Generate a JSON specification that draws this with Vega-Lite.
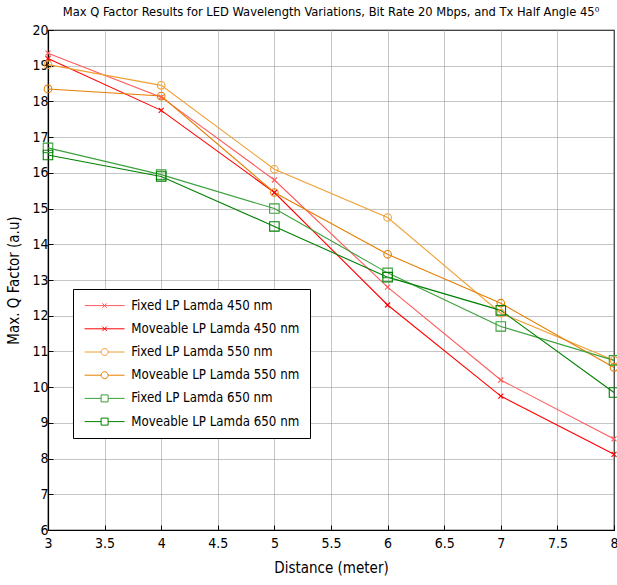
{
  "$schema": "https://vega.github.io/schema/vega-lite/v6.json",
  "width": 566,
  "height": 500,
  "autosize": {"type": "none"},
  "padding": {"left": 48, "top": 30, "right": 3, "bottom": 55},
  "background": "white",
  "title": {
    "text": "Max Q Factor Results for LED Wavelength Variations, Bit Rate 20 Mbps, and Tx Half Angle 45⁰",
    "font": "DejaVu Sans Condensed, Liberation Sans, sans-serif",
    "fontSize": 12.8,
    "fontWeight": "normal",
    "color": "#000000",
    "anchor": "middle",
    "offset": 4
  },
  "config": {
    "view": {"stroke": "#000000", "strokeWidth": 1.2},
    "axis": {
      "labelFont": "DejaVu Sans Condensed, Liberation Sans, sans-serif",
      "labelFontSize": 14,
      "labelColor": "#000000",
      "titleFont": "DejaVu Sans Condensed, Liberation Sans, sans-serif",
      "titleFontSize": 15,
      "titleFontWeight": "normal",
      "titleColor": "#000000",
      "domainColor": "#000000",
      "domainWidth": 1.2,
      "tickColor": "#000000",
      "tickSize": -5,
      "gridColor": "#8a8a8a",
      "gridDash": [1, 1],
      "gridWidth": 1,
      "gridOpacity": 1
    }
  },
  "data": {
    "values": [
      {"series": "Fixed LP Lamda 450 nm", "lamda": "450", "d": 3, "q": 19.35},
      {"series": "Fixed LP Lamda 450 nm", "lamda": "450", "d": 4, "q": 18.12},
      {"series": "Fixed LP Lamda 450 nm", "lamda": "450", "d": 5, "q": 15.8},
      {"series": "Fixed LP Lamda 450 nm", "lamda": "450", "d": 6, "q": 12.8},
      {"series": "Fixed LP Lamda 450 nm", "lamda": "450", "d": 7, "q": 10.2},
      {"series": "Fixed LP Lamda 450 nm", "lamda": "450", "d": 8, "q": 8.55},
      {"series": "Moveable LP Lamda 450 nm", "lamda": "450", "d": 3, "q": 19.2},
      {"series": "Moveable LP Lamda 450 nm", "lamda": "450", "d": 4, "q": 17.75},
      {"series": "Moveable LP Lamda 450 nm", "lamda": "450", "d": 5, "q": 15.45},
      {"series": "Moveable LP Lamda 450 nm", "lamda": "450", "d": 6, "q": 12.3},
      {"series": "Moveable LP Lamda 450 nm", "lamda": "450", "d": 7, "q": 9.75},
      {"series": "Moveable LP Lamda 450 nm", "lamda": "450", "d": 8, "q": 8.12},
      {"series": "Fixed LP Lamda 550 nm", "lamda": "550", "d": 3, "q": 19.03},
      {"series": "Fixed LP Lamda 550 nm", "lamda": "550", "d": 4, "q": 18.45},
      {"series": "Fixed LP Lamda 550 nm", "lamda": "550", "d": 5, "q": 16.1},
      {"series": "Fixed LP Lamda 550 nm", "lamda": "550", "d": 6, "q": 14.75},
      {"series": "Fixed LP Lamda 550 nm", "lamda": "550", "d": 7, "q": 12.07},
      {"series": "Fixed LP Lamda 550 nm", "lamda": "550", "d": 8, "q": 10.75},
      {"series": "Moveable LP Lamda 550 nm", "lamda": "550", "d": 3, "q": 18.35},
      {"series": "Moveable LP Lamda 550 nm", "lamda": "550", "d": 4, "q": 18.15},
      {"series": "Moveable LP Lamda 550 nm", "lamda": "550", "d": 5, "q": 15.45},
      {"series": "Moveable LP Lamda 550 nm", "lamda": "550", "d": 6, "q": 13.72},
      {"series": "Moveable LP Lamda 550 nm", "lamda": "550", "d": 7, "q": 12.35},
      {"series": "Moveable LP Lamda 550 nm", "lamda": "550", "d": 8, "q": 10.55},
      {"series": "Fixed LP Lamda 650 nm", "lamda": "650", "d": 3, "q": 16.7},
      {"series": "Fixed LP Lamda 650 nm", "lamda": "650", "d": 4, "q": 15.95},
      {"series": "Fixed LP Lamda 650 nm", "lamda": "650", "d": 5, "q": 15.0},
      {"series": "Fixed LP Lamda 650 nm", "lamda": "650", "d": 6, "q": 13.2},
      {"series": "Fixed LP Lamda 650 nm", "lamda": "650", "d": 7, "q": 11.7},
      {"series": "Fixed LP Lamda 650 nm", "lamda": "650", "d": 8, "q": 10.75},
      {"series": "Moveable LP Lamda 650 nm", "lamda": "650", "d": 3, "q": 16.5},
      {"series": "Moveable LP Lamda 650 nm", "lamda": "650", "d": 4, "q": 15.9},
      {"series": "Moveable LP Lamda 650 nm", "lamda": "650", "d": 5, "q": 14.5},
      {"series": "Moveable LP Lamda 650 nm", "lamda": "650", "d": 6, "q": 13.08},
      {"series": "Moveable LP Lamda 650 nm", "lamda": "650", "d": 7, "q": 12.15},
      {"series": "Moveable LP Lamda 650 nm", "lamda": "650", "d": 8, "q": 9.85}
    ]
  },
  "encoding": {
    "x": {
      "field": "d",
      "type": "quantitative",
      "scale": {"domain": [3, 8], "nice": false, "zero": false},
      "axis": {"values": [3, 3.5, 4, 4.5, 5, 5.5, 6, 6.5, 7, 7.5, 8], "format": "~g", "title": "Distance (meter)", "labelPadding": 11, "titlePadding": 10, "labelFlush": false}
    },
    "y": {
      "field": "q",
      "type": "quantitative",
      "scale": {"domain": [6, 20], "nice": false, "zero": false},
      "axis": {"values": [6, 7, 8, 9, 10, 11, 12, 13, 14, 15, 16, 17, 18, 19, 20], "title": "Max. Q Factor (a.u)", "labelPadding": 5, "titlePadding": 10, "labelFlush": false}
    },
    "color": {
      "field": "series",
      "type": "nominal",
      "scale": {
        "domain": ["Fixed LP Lamda 450 nm", "Moveable LP Lamda 450 nm", "Fixed LP Lamda 550 nm", "Moveable LP Lamda 550 nm", "Fixed LP Lamda 650 nm", "Moveable LP Lamda 650 nm"],
        "range": ["#ff5a5a", "#ff0000", "#f0a035", "#e67e00", "#3ca03c", "#008000"]
      },
      "legend": {
        "title": null,
        "orient": "none",
        "legendX": 25,
        "legendY": 259,
        "fillColor": "#ffffff",
        "strokeColor": "#000000",
        "padding": 10,
        "labelFont": "DejaVu Sans Condensed, Liberation Sans, sans-serif",
        "labelFontSize": 13.2,
        "labelColor": "#000000",
        "labelLimit": 400,
        "labelOffset": 35,
        "symbolSize": 100,
        "rowPadding": 9.2,
        "symbolStrokeWidth": 1,
        "encode": {
          "symbols": {
            "update": {
              "shape": {"signal": "indexof(datum.value, '450') >= 0 ? 'M-1,0H7M2.55,-0.45L3.45,0.45M2.55,0.45L3.45,-0.45' : indexof(datum.value, '550') >= 0 ? 'M-1,0H2.3A0.7,0.7 0 1,1 3.7,0A0.7,0.7 0 1,1 2.3,0M3.7,0H7' : 'M-1,0H2.3M2.3,-0.7H3.7V0.7H2.3ZM3.7,0H7'"},
              "fill": {"value": "transparent"},
              "strokeWidth": {"value": 1}
            }
          }
        }
      }
    }
  },
  "layer": [
    {"mark": {"type": "line", "strokeWidth": 1.1}},
    {
      "mark": {"type": "point", "filled": false, "strokeWidth": 1.1, "opacity": 1},
      "encoding": {
        "shape": {
          "field": "lamda",
          "type": "nominal",
          "scale": {
            "domain": ["450", "550", "650"],
            "range": ["M-1,-1L1,1M-1,1L1,-1", "circle", "square"]
          },
          "legend": null
        },
        "size": {
          "field": "lamda",
          "type": "nominal",
          "scale": {
            "domain": ["450", "550", "650"],
            "range": [25, 90, 90]
          },
          "legend": null
        }
      }
    }
  ]
}
